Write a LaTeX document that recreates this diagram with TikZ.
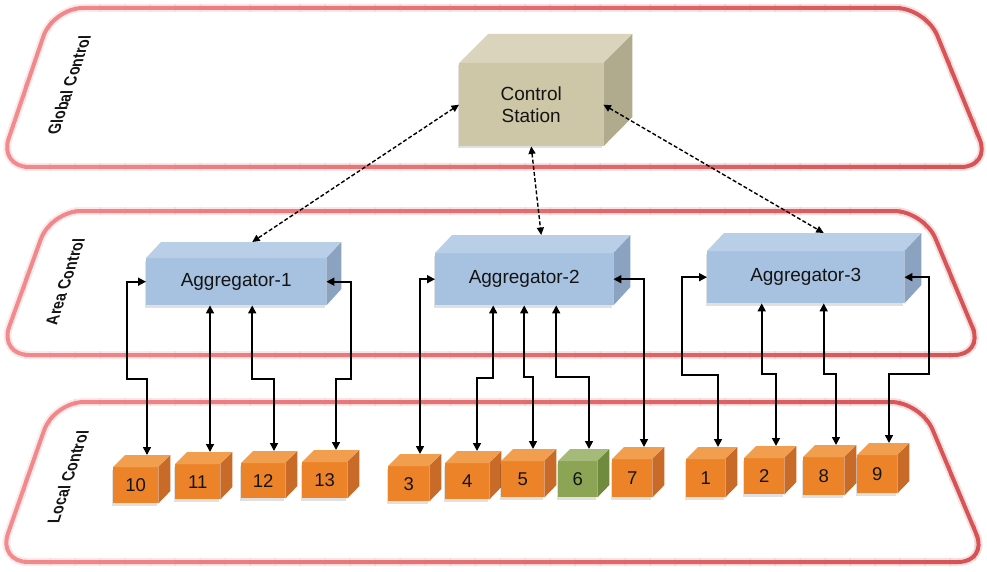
\documentclass[tikz,border=0pt]{standalone}
\usepackage{fontspec}
\setmainfont{Liberation Sans}
\usetikzlibrary{arrows.meta,calc}

\definecolor{bandL}{RGB}{242,138,142}
\definecolor{bandR}{RGB}{214,82,84}
\definecolor{csF}{RGB}{205,199,167}
\definecolor{csT}{RGB}{218,212,189}
\definecolor{csS}{RGB}{176,171,141}
\definecolor{agF}{RGB}{167,194,225}
\definecolor{agT}{RGB}{185,207,232}
\definecolor{agS}{RGB}{139,163,192}
\definecolor{orF}{RGB}{237,131,40}
\definecolor{orT}{RGB}{241,158,78}
\definecolor{orS}{RGB}{200,106,40}
\definecolor{grF}{RGB}{139,165,85}
\definecolor{grT}{RGB}{165,186,120}
\definecolor{grS}{RGB}{112,138,62}
\definecolor{txt}{RGB}{20,20,20}

\newcommand\mainfs{\fontsize{19}{22}\selectfont}
\newcommand\cubefs{\fontsize{18.5}{22}\selectfont}
\newcommand\labfs{\fontsize{14.3}{16}\selectfont\bfseries}

% name, x, y, w, h, dx, dy, colour prefix, text
\newcommand\cuboid[9]{%
  \fill[black, opacity=0.12] (#2-1.5,#3+2.5) rectangle (#2+#4-1.5,#3+#5+2.5);
  \node[facebox, minimum width=#4pt, minimum height=#5pt, fill=#8F] (#1) at (#2,#3) {#9};
  \fill[#8T] (#1.north west) -- ++(#6,-#7) -- ++(#4,0) -- (#1.north east) -- cycle;
  \fill[#8S] (#1.north east) -- ++(#6,-#7) -- ++(0,#5) -- (#1.south east) -- cycle;
}

\tikzset{
  facebox/.style={anchor=north west, inner sep=0pt, align=center, font=\mainfs, text=txt},
  bandline/.style={line width=4pt, rounded corners=30pt},
  bandglow/.style={line width=8pt, rounded corners=30pt, opacity=0.18},
  lab/.style={font=\labfs, text=txt, inner sep=0pt, cm={0.33,1,-1.2,0,(0,0)}},
  link/.style={line width=1.6pt, {Triangle[length=8pt,width=8pt]}-{Triangle[length=8pt,width=8pt]}},
  dlink/.style={line width=1.4pt, dash pattern=on 4pt off 2.2pt, {Triangle[length=7.5pt,width=7pt]}-{Triangle[length=7.5pt,width=7pt]}}
}

\begin{document}
\begin{tikzpicture}[x=1pt,y=-1pt]
\useasboundingbox (0,0) rectangle (987,572);
\fill[white] (0,0) rectangle (987,572);

% ---- bands (horizontal colour gradient via strips) ----
\foreach \i in {0,...,39}{
  \pgfmathtruncatemacro\p{round(100*\i/39)}
  \begin{scope}
    \clip (\i*25-0.5,-10) rectangle (\i*25+25.5,600);
    \draw[bandglow, draw=bandR!\p!bandL] (53,8) -- (926,8) -- (991,167) -- (-1,167) -- cycle;
    \draw[bandglow, draw=bandR!\p!bandL] (51,211) -- (924,211) -- (984,355) -- (-1,355) -- cycle;
    \draw[bandglow, draw=bandR!\p!bandL] (54,402) -- (921,402) -- (988,562) -- (-2,562) -- cycle;
    \draw[bandline, draw=bandR!\p!bandL] (53,8) -- (926,8) -- (991,167) -- (-1,167) -- cycle;
    \draw[bandline, draw=bandR!\p!bandL] (51,211) -- (924,211) -- (984,355) -- (-1,355) -- cycle;
    \draw[bandline, draw=bandR!\p!bandL] (54,402) -- (921,402) -- (988,562) -- (-2,562) -- cycle;
  \end{scope}
}

% ---- band labels ----
\node[lab] (lglobal) at (69,85) {Global Control};
\node[lab] (larea) at (65,282) {Area Control};
\node[lab] (llocal) at (68,477) {Local Control};

% ---- boxes ----
\cuboid{cs}{459}{63}{144}{83}{29}{29}{cs}{Control\\Station}
\cuboid{a1}{146}{258}{180}{47}{15}{16}{ag}{Aggregator-1}
\cuboid{a2}{435}{253}{178}{52}{17}{18}{ag}{Aggregator-2}
\cuboid{a3}{707}{251}{197}{52}{17}{18}{ag}{Aggregator-3}

\cuboid{c10}{113}{467}{45}{36}{12}{12}{or}{\cubefs 10}
\cuboid{c11}{175}{464}{45}{35}{12}{12}{or}{\cubefs 11}
\cuboid{c12}{241}{463}{44}{35}{12}{12}{or}{\cubefs 12}
\cuboid{c13}{302}{462}{45}{36}{12}{12}{or}{\cubefs 13}
\cuboid{c3}{388}{466}{41}{35}{12}{12}{or}{\cubefs 3}
\cuboid{c4}{445}{463}{44}{36}{12}{12}{or}{\cubefs 4}
\cuboid{c5}{501}{461}{43}{36}{12}{12}{or}{\cubefs 5}
\cuboid{c6}{558}{461}{39}{36}{12}{12}{gr}{\cubefs 6}
\cuboid{c7}{612}{459}{40}{38}{12}{12}{or}{\cubefs 7}
\cuboid{c1}{686}{459}{39}{38}{12}{12}{or}{\cubefs 1}
\cuboid{c2}{744}{458}{40}{36}{12}{12}{or}{\cubefs 2}
\cuboid{c8}{803}{457}{41}{38}{12}{12}{or}{\cubefs 8}
\cuboid{c9}{857}{455}{40}{38}{12}{12}{or}{\cubefs 9}

% ---- connector end points on cube tops ----
\coordinate (t10) at ($(c10.north west)+(34,-12)$);
\coordinate (t11) at ($(c11.north west)+(35,-12)$);
\coordinate (t12) at ($(c12.north west)+(33,-12)$);
\coordinate (t13) at ($(c13.north west)+(34,-12)$);
\coordinate (t3) at ($(c3.north west)+(32,-12)$);
\coordinate (t4) at ($(c4.north west)+(32,-12)$);
\coordinate (t5) at ($(c5.north west)+(32,-12)$);
\coordinate (t6) at ($(c6.north west)+(31,-12)$);
\coordinate (t7) at ($(c7.north west)+(32,-12)$);
\coordinate (t1) at ($(c1.north west)+(32,-12)$);
\coordinate (t2) at ($(c2.north west)+(32,-12)$);
\coordinate (t8) at ($(c8.north west)+(33,-12)$);
\coordinate (t9) at ($(c9.north west)+(32,-12)$);

% ---- Aggregator-1 links ----
\draw[link] (a1.west) -| (127,379) -| (t10);
\draw[link] (a1.south -| t11) -- (t11);
\draw[link] ($(a1.south)+(16,0)$) |- (t12 |- 0,379) -- (t12);
\draw[link] (a1.east) -| (351,379) -| (t13);

% ---- Aggregator-2 links ----
\draw[link] (a2.west) -| (t3);
\draw[link] ($(a2.south)+(-31,0)$) |- (t4 |- 0,378) -- (t4);
\draw[link] (a2.south) |- (t5 |- 0,377) -- (t5);
\draw[link] ($(a2.south)+(32,0)$) |- (t6 |- 0,377) -- (t6);
\draw[link] (a2.east) -| (t7);

% ---- Aggregator-3 links ----
\draw[link] (a3.west) -| (682,375) -| (t1);
\draw[link] ($(a3.south)+(-44,0)$) |- (t2 |- 0,374) -- (t2);
\draw[link] ($(a3.south)+(18,0)$) |- (t8 |- 0,374) -- (t8);
\draw[link] (a3.east) -| (929,374) -| (t9);

% ---- Control station links ----
\draw[dlink] (cs.west) -- ($(a1.north)+(16,-16)$);
\draw[dlink] (cs.south) -- ($(a2.north)+(17,-18)$);
\draw[dlink] (cs.east) -- ($(a3.north)+(18,-18)$);
\end{tikzpicture}
\end{document}
